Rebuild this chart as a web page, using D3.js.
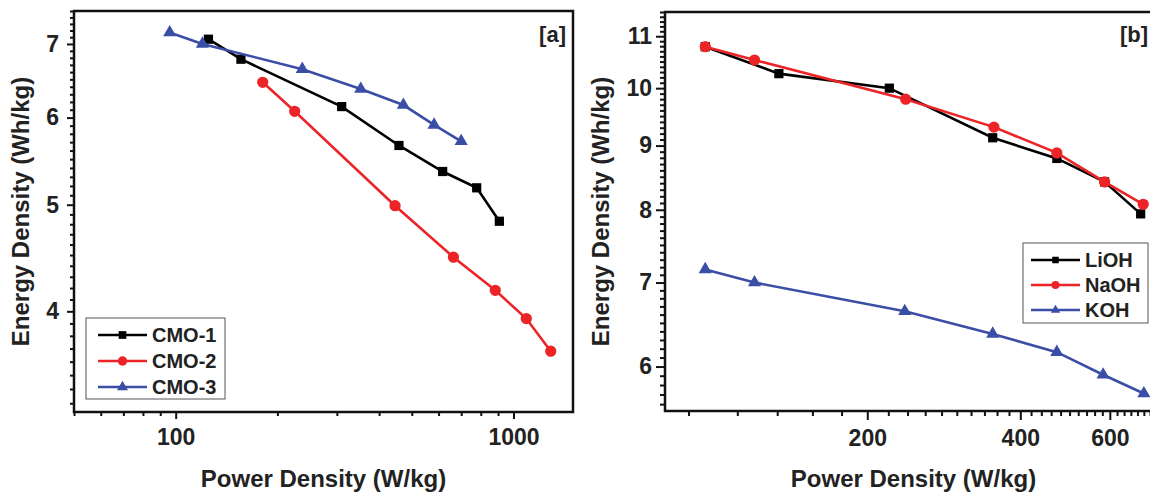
<!DOCTYPE html>
<html>
<head>
<meta charset="utf-8">
<script src="https://cdn.jsdelivr.net/npm/d3@7"></script>
<style>
  body { margin: 0; background: #fff; }
  text { font-family: "Liberation Sans", Arial, sans-serif; font-weight: bold; fill: #222; }
</style>
</head>
<body>
<div id="chart"></div>
<script>
// panel [a] : CMO samples
var cmoPower1 = [125, 156, 310, 458, 617, 778, 908];
var cmoEnergy1 = [7.07, 6.78, 6.14, 5.66, 5.36, 5.18, 4.83];
var cmoPower2 = [181, 225, 446, 664, 883, 1091, 1289];
var cmoEnergy2 = [6.46, 6.08, 4.99, 4.48, 4.18, 3.94, 3.68];
var cmoPower3 = [96, 120, 237, 353, 472, 582, 700];
var cmoEnergy3 = [7.17, 7.0, 6.64, 6.37, 6.16, 5.91, 5.71];

// panel [b] : electrolytes
var liohPower = [96, 134, 221, 353, 472, 586, 690];
var liohEnergy = [10.79, 10.27, 10.0, 9.13, 8.79, 8.42, 7.94];
var naohPower = [96, 120, 238, 355, 472, 586, 698];
var naohEnergy = [10.79, 10.53, 9.80, 9.31, 8.88, 8.42, 8.08];
var kohPower = [96, 120, 237, 353, 472, 582, 700];
var kohEnergy = [7.17, 7.0, 6.64, 6.37, 6.16, 5.91, 5.71];

// ticks
var xTicksA = [100, 1000];
var xMinorA = [50, 60, 70, 80, 90, 200, 300, 400, 500, 600, 700, 800, 900];
var yTicksA = [4, 5, 6, 7];
var xTicksB = [200, 400, 600];
var xMinorB = [89, 111, 133, 156, 178].concat(d3.range(220, 400, 20), d3.range(420, 600, 20), d3.range(620, 760, 20));
var yTicksB = [6, 7, 8, 9, 10, 11];

var red = '#ec2327';
var blue = '#3a4ea6';

var svg = d3.select('#chart')
  .append('svg')
    .attr('width', 1150)
    .attr('height', 492);

svg.append('rect')
  .attr('width', 1150)
  .attr('height', 492)
  .style('fill', '#fff');

function minorsBetween(lo, hi) {
  return d3.range(Math.round(lo * 10), Math.round(hi * 10) + 1)
    .map(function (v) { return v / 10; })
    .filter(function (v) { return v >= lo && v <= hi && v % 1 !== 0; });
}

function drawPanel(p) {
  var x = d3.scaleLog().domain(p.xDomain).range([p.left, p.right]);
  var y = d3.scaleLog().domain(p.yDomain).range([p.bottom, p.top]);
  var g = svg.append('g');

  // minor + major ticks, bottom
  g.append('g')
      .attr('transform', 'translate(0,' + p.bottom + ')')
      .call(d3.axisBottom(x).tickValues(p.xMinor).tickSize(p.minorLen).tickFormat(''));
  g.append('g')
      .attr('transform', 'translate(0,' + p.bottom + ')')
      .call(d3.axisBottom(x).tickValues(p.xTicks).tickSize(p.majorLen).tickPadding(10)
        .tickFormat(d3.format('d')))
    .selectAll('text')
      .style('font-size', '23px')
      .style('fill', '#222');

  // left
  g.append('g')
      .attr('transform', 'translate(' + p.left + ',0)')
      .call(d3.axisLeft(y).tickValues(minorsBetween(p.yDomain[0], p.yDomain[1])).tickSize(p.minorLen).tickFormat(''));
  g.append('g')
      .attr('transform', 'translate(' + p.left + ',0)')
      .call(d3.axisLeft(y).tickValues(p.yTicks).tickSize(p.majorLen).tickPadding(p.yPad)
        .tickFormat(d3.format('d')))
    .selectAll('text')
      .style('font-size', '23px')
      .style('fill', '#222');

  g.selectAll('.domain').remove();
  g.selectAll('.tick line')
    .style('stroke', '#111')
    .style('stroke-width', 2);

  // frame
  g.append('rect')
    .attr('x', p.left)
    .attr('y', p.top)
    .attr('width', p.right - p.left)
    .attr('height', p.bottom - p.top)
    .style('fill', 'none')
    .style('stroke', '#111')
    .style('stroke-width', 2.5);

  // titles
  g.append('text')
    .attr('x', (p.left + p.right) / 2)
    .attr('y', 487)
    .attr('text-anchor', 'middle')
    .style('font-size', '24px')
    .text('Power Density (W/kg)');
  g.append('text')
    .attr('transform', 'translate(' + p.yTitleX + ',' + (p.top + p.bottom) / 2 + ') rotate(-90)')
    .attr('text-anchor', 'middle')
    .style('font-size', '24px')
    .text('Energy Density (Wh/kg)');
  g.append('text')
    .attr('x', p.tagX)
    .attr('y', 42)
    .attr('text-anchor', 'end')
    .style('font-size', '22px')
    .text(p.tag);

  var line = d3.line()
    .x(function (d) { return x(d[0]); })
    .y(function (d) { return y(d[1]); });

  var s = g.selectAll('g.series')
    .data(p.series)
    .enter().append('g')
      .classed('series', true);

  s.append('path')
    .attr('d', function (d) { return line(d3.zip(d.power, d.energy)); })
    .style('fill', 'none')
    .style('stroke', function (d) { return d.color; })
    .style('stroke-width', 2.6);

  s.selectAll('path.marker')
    .data(function (d) {
      return d3.zip(d.power, d.energy).map(function (v) { return { v: v, s: d }; });
    })
    .enter().append('path')
      .classed('marker', true)
      .attr('transform', function (d) { return 'translate(' + x(d.v[0]) + ',' + y(d.v[1]) + ')'; })
      .attr('d', function (d) { return d3.symbol().type(d.s.symbol).size(d.s.size)(); })
      .style('fill', function (d) { return d.s.color; });

  // legend
  var lg = g.append('g');
  lg.append('rect')
    .attr('x', p.legend.x)
    .attr('y', p.legend.y)
    .attr('width', p.legend.w)
    .attr('height', p.legend.h)
    .style('fill', '#fff')
    .style('stroke', '#555')
    .style('stroke-width', 1);
  var row = lg.selectAll('g.row')
    .data(p.series)
    .enter().append('g')
      .attr('transform', function (d, i) {
        return 'translate(' + p.legend.x + ',' + (p.legend.y + p.legend.first + i * p.legend.step) + ')';
      });
  row.append('line')
    .attr('x1', p.legend.l1)
    .attr('x2', p.legend.l2)
    .style('stroke', function (d) { return d.color; })
    .style('stroke-width', 2.6);
  row.append('path')
    .attr('transform', 'translate(' + (p.legend.l1 + p.legend.l2) / 2 + ',0)')
    .attr('d', function (d) { return d3.symbol().type(d.symbol).size(d.size * p.legend.scale)(); })
    .style('fill', function (d) { return d.color; });
  row.append('text')
    .attr('x', p.legend.tx)
    .attr('dy', '0.36em')
    .style('font-size', '20px')
    .text(function (d) { return d.name; });
}

drawPanel({
  left: 74, right: 573, top: 11, bottom: 412,
  xDomain: [50, 1500], yDomain: [3.24, 7.5],
  xTicks: xTicksA, xMinor: xMinorA, yTicks: yTicksA,
  majorLen: 7, minorLen: 4, yPad: 8,
  yTitleX: 29, tag: '[a]', tagX: 566,
  series: [
    { name: 'CMO-1', power: cmoPower1, energy: cmoEnergy1, color: '#000', symbol: d3.symbolSquare, size: 85 },
    { name: 'CMO-2', power: cmoPower2, energy: cmoEnergy2, color: red, symbol: d3.symbolCircle, size: 100 },
    { name: 'CMO-3', power: cmoPower3, energy: cmoEnergy3, color: blue, symbol: d3.symbolTriangle, size: 75 }
  ],
  legend: { x: 86, y: 318, w: 139, h: 81, first: 17, step: 26, l1: 12, l2: 61, tx: 66, scale: 0.7 }
});

drawPanel({
  left: 665, right: 1162, top: 12, bottom: 411,
  xDomain: [80, 760], yDomain: [5.53, 11.5],
  xTicks: xTicksB, xMinor: xMinorB, yTicks: yTicksB,
  majorLen: 9, minorLen: 5, yPad: 4,
  yTitleX: 609, tag: '[b]', tagX: 1148,
  series: [
    { name: 'LiOH', power: liohPower, energy: liohEnergy, color: '#000', symbol: d3.symbolSquare, size: 85 },
    { name: 'NaOH', power: naohPower, energy: naohEnergy, color: red, symbol: d3.symbolCircle, size: 100 },
    { name: 'KOH', power: kohPower, energy: kohEnergy, color: blue, symbol: d3.symbolTriangle, size: 75 }
  ],
  legend: { x: 1023, y: 243, w: 125, h: 80, first: 17, step: 25, l1: 8, l2: 57, tx: 62, scale: 0.5 }
});
</script>
</body>
</html>
